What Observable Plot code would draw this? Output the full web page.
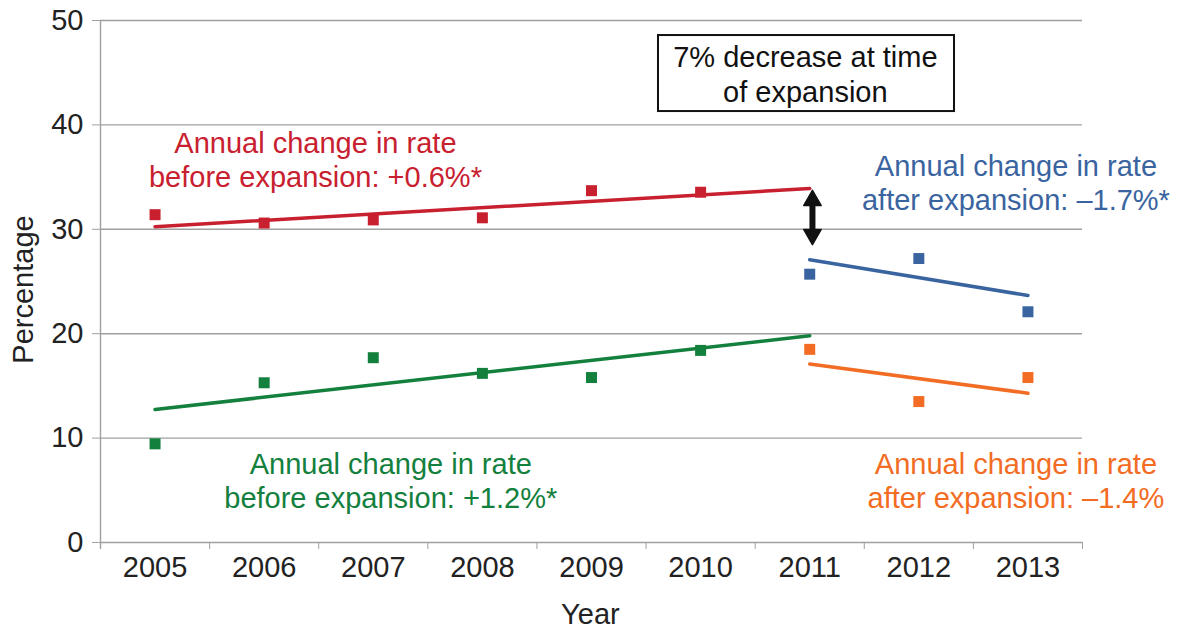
<!DOCTYPE html>
<html>
<head>
<meta charset="utf-8">
<script src="https://cdn.jsdelivr.net/npm/d3@7"></script>
<script src="https://cdn.jsdelivr.net/npm/@observablehq/plot@0.6"></script>
<style>
  html, body { margin: 0; padding: 0; background: #fff; }
  #chart { width: 1190px; height: 635px; }
</style>
</head>
<body>
<div id="chart"></div>
<script>
// ---- data ----
const years = [2005, 2006, 2007, 2008, 2009, 2010, 2011, 2012, 2013];
const beforeYears = [2005, 2006, 2007, 2008, 2009, 2010];
const afterYears = [2011, 2012, 2013];
const redBefore = [31.4, 30.6, 30.9, 31.1, 33.7, 33.55];
const greenBefore = [9.45, 15.3, 17.7, 16.2, 15.8, 18.4];
const blueAfter = [25.7, 27.2, 22.1];
const orangeAfter = [18.5, 13.5, 15.8];
const redTrend = [{year: 2005, v: 30.25}, {year: 2011, v: 33.9}];
const greenTrend = [{year: 2005, v: 12.74}, {year: 2011, v: 19.8}];
const blueTrend = [{year: 2011, v: 27.08}, {year: 2013, v: 23.66}];
const orangeTrend = [{year: 2011, v: 17.1}, {year: 2013, v: 14.3}];
const yTicks = [0, 10, 20, 30, 40, 50];

const redNote = "Annual change in rate\nbefore expansion: +0.6%*";
const greenNote = "Annual change in rate\nbefore expansion: +1.2%*";
const blueNote = "Annual change in rate\nafter expansion: \u20131.7%*";
const orangeNote = "Annual change in rate\nafter expansion: \u20131.4%";
const boxNote = "7% decrease at time\nof expansion";

const notes = [
  {text: redNote, x: 2006.47, y: 36.75},
  {text: greenNote, x: 2007.16, y: 5.95},
  {text: blueNote, x: 2012.89, y: 34.5},
  {text: orangeNote, x: 2012.89, y: 5.95}
];
const box = [{x1: 2009.614, x2: 2012.327, y1: 41.28, y2: 48.56, text: boxNote, tx: 2010.96, ty: 44.95}];
const arrowSpec = [{x: 2011.025, top: 33.1, bottom: 29.15, headTop: 32.76, headBottom: 29.5}];

const RED = "#c8202f", GREEN = "#13803d", BLUE = "#3a64a0", ORANGE = "#f26c23";

const pts = (xs, vs) => xs.map((year, i) => ({year, v: vs[i]}));
const boundaries = years.map(y => y - 0.5).concat([years[years.length - 1] + 0.5]);

const font = "'Liberation Sans', Arial, Helvetica, sans-serif";

const chart = Plot.plot({
  width: 1190,
  height: 635,
  marginLeft: 100,
  marginRight: 108,
  marginTop: 20,
  marginBottom: 93,
  x: {type: "linear", domain: [2004.5, 2013.5], axis: null},
  y: {domain: [0, 50], axis: null},
  style: {fontFamily: font, fontSize: "29px", color: "#222", background: "white", overflow: "visible"},
  marks: [
    Plot.gridY(yTicks, {stroke: "#a0a0a0", strokeOpacity: 1, strokeWidth: 1.4}),
    Plot.axisY(yTicks, {tickSize: 8, tickPadding: 9, stroke: "#a0a0a0", fill: "#222", fontSize: 29, label: null}),
    Plot.ruleX([2004.5], {y1: -0.67, y2: 50, stroke: "#a0a0a0", strokeWidth: 1.4}),
    Plot.axisX(boundaries, {tickSize: 7, tickFormat: () => "", stroke: "#a0a0a0", label: null}),
    Plot.axisX(years, {tickSize: 0, tickPadding: 14, tickFormat: d => String(d), fill: "#222", fontSize: 29, label: null}),
    Plot.text(["Year"], {x: 2008.99, y: -6.87, text: d => d, fontSize: 29, fill: "#222"}),
    Plot.text(["Percentage"], {x: 2003.794, y: 24.23, text: d => d, rotate: -90, fontSize: 29, fill: "#222"}),

    // trend lines
    Plot.line(redTrend, {x: "year", y: "v", stroke: RED, strokeWidth: 3.5}),
    Plot.line(greenTrend, {x: "year", y: "v", stroke: GREEN, strokeWidth: 3.5}),
    Plot.line(blueTrend, {x: "year", y: "v", stroke: BLUE, strokeWidth: 3.5}),
    Plot.line(orangeTrend, {x: "year", y: "v", stroke: ORANGE, strokeWidth: 3.5}),

    // data points
    Plot.dot(pts(beforeYears, redBefore), {x: "year", y: "v", symbol: "square", r: 6.2, fill: RED}),
    Plot.dot(pts(beforeYears, greenBefore), {x: "year", y: "v", symbol: "square", r: 6.2, fill: GREEN}),
    Plot.dot(pts(afterYears, blueAfter), {x: "year", y: "v", symbol: "square", r: 6.2, fill: BLUE}),
    Plot.dot(pts(afterYears, orangeAfter), {x: "year", y: "v", symbol: "square", r: 6.2, fill: ORANGE}),

    // double-headed arrow
    Plot.ruleX(arrowSpec, {x: "x", y1: "top", y2: "bottom", stroke: "#111", strokeWidth: 6}),
    Plot.dot(arrowSpec, {x: "x", y: "headTop", symbol: "triangle", r: 6.5, fill: "#111", stroke: "#111", strokeWidth: 1.5, strokeLinejoin: "round"}),
    Plot.dot(arrowSpec, {x: "x", y: "headBottom", symbol: "triangle", r: 6.5, rotate: 180, fill: "#111", stroke: "#111", strokeWidth: 1.5, strokeLinejoin: "round"}),

    // annotation box
    Plot.rect(box, {x1: "x1", x2: "x2", y1: "y1", y2: "y2", fill: "white", stroke: "#111", strokeWidth: 2}),
    Plot.text(box, {x: "tx", y: "ty", text: "text", fill: "#111", fontSize: 29, lineHeight: 1.2, textAnchor: "middle", lineAnchor: "middle"}),

    // annotations
    Plot.text([notes[0]], {x: "x", y: "y", text: "text", fill: RED, fontSize: 29, lineHeight: 1.17, lineAnchor: "middle"}),
    Plot.text([notes[1]], {x: "x", y: "y", text: "text", fill: GREEN, fontSize: 29, lineHeight: 1.17, lineAnchor: "middle"}),
    Plot.text([notes[2]], {x: "x", y: "y", text: "text", fill: BLUE, fontSize: 29, lineHeight: 1.17, lineAnchor: "middle"}),
    Plot.text([notes[3]], {x: "x", y: "y", text: "text", fill: ORANGE, fontSize: 29, lineHeight: 1.17, lineAnchor: "middle"})
  ]
});
document.getElementById("chart").appendChild(chart);
</script>
</body>
</html>
